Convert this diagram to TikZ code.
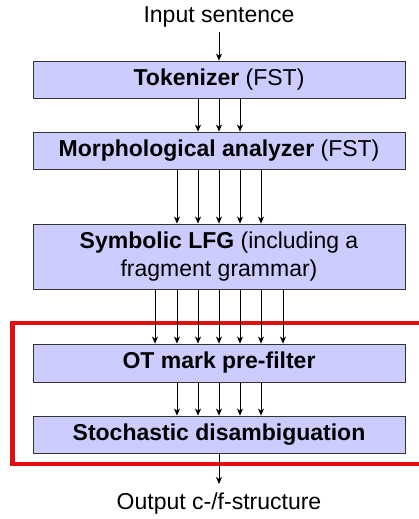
\documentclass[tikz,border=0pt]{standalone}
\usepackage{fontspec}
\setmainfont{Liberation Sans}
\usetikzlibrary{arrows.meta}
\definecolor{boxfill}{RGB}{204,204,255}
\definecolor{redframe}{RGB}{225,15,15}
\tikzset{
  stage/.style={draw=black!80, line width=0.8pt, fill=boxfill, minimum width=372pt, inner sep=0pt, align=center, font=\fontsize{23}{28}\selectfont},
  plain/.style={inner sep=0pt, font=\fontsize{23}{28}\selectfont},
  arr/.style={line width=0.8pt, -{Stealth[length=7pt,width=6pt,inset=2pt]}}
}
\begin{document}
\begin{tikzpicture}[x=1pt,y=-1pt]
\useasboundingbox (0,0) rectangle (419,519);
\node[plain] (in) at (219,17) {Input sentence};
\node[stage, minimum height=37pt] (tok) at (219,79.5) {\textbf{Tokenizer} (FST)};
\node[stage, minimum height=37pt] (morph) at (219,150.5) {\textbf{Morphological analyzer} (FST)};
\node[stage, minimum height=65pt] (sym) at (219,256.5) {\textbf{Symbolic LFG} (including a\\fragment grammar)};
\node[stage, minimum height=38pt] (ot) at (219,363) {\textbf{OT mark pre-filter}};
\node[stage, minimum height=37pt] (sto) at (219,434.5) {\textbf{Stochastic disambiguation}};
\node[plain] (out) at (219,504) {Output c-/f-structure};
\coordinate (inarr) at (219,32);
\coordinate (outarr) at (219,484);
\draw[redframe, line width=4.5pt] (430,323) -- (12.5,323) -- (12.5,464) -- (430,464);
\draw[arr] (inarr) -- (tok.north);
\foreach \d in {-21,0,21}
  \draw[arr] ([xshift=\d pt]tok.south) -- ([xshift=\d pt]morph.north);
\foreach \d in {-42,-21,0,21,42}
  \draw[arr] ([xshift=\d pt]morph.south) -- ([xshift=\d pt]sym.north);
\foreach \d in {-64,-42,-21,0,21,42,64}
  \draw[arr] ([xshift=\d pt]sym.south) -- ([xshift=\d pt]ot.north);
\foreach \d in {-42,-21,0,21,42}
  \draw[arr] ([xshift=\d pt]ot.south) -- ([xshift=\d pt]sto.north);
\draw[arr] (sto.south) -- (outarr);
\end{tikzpicture}
\end{document}
